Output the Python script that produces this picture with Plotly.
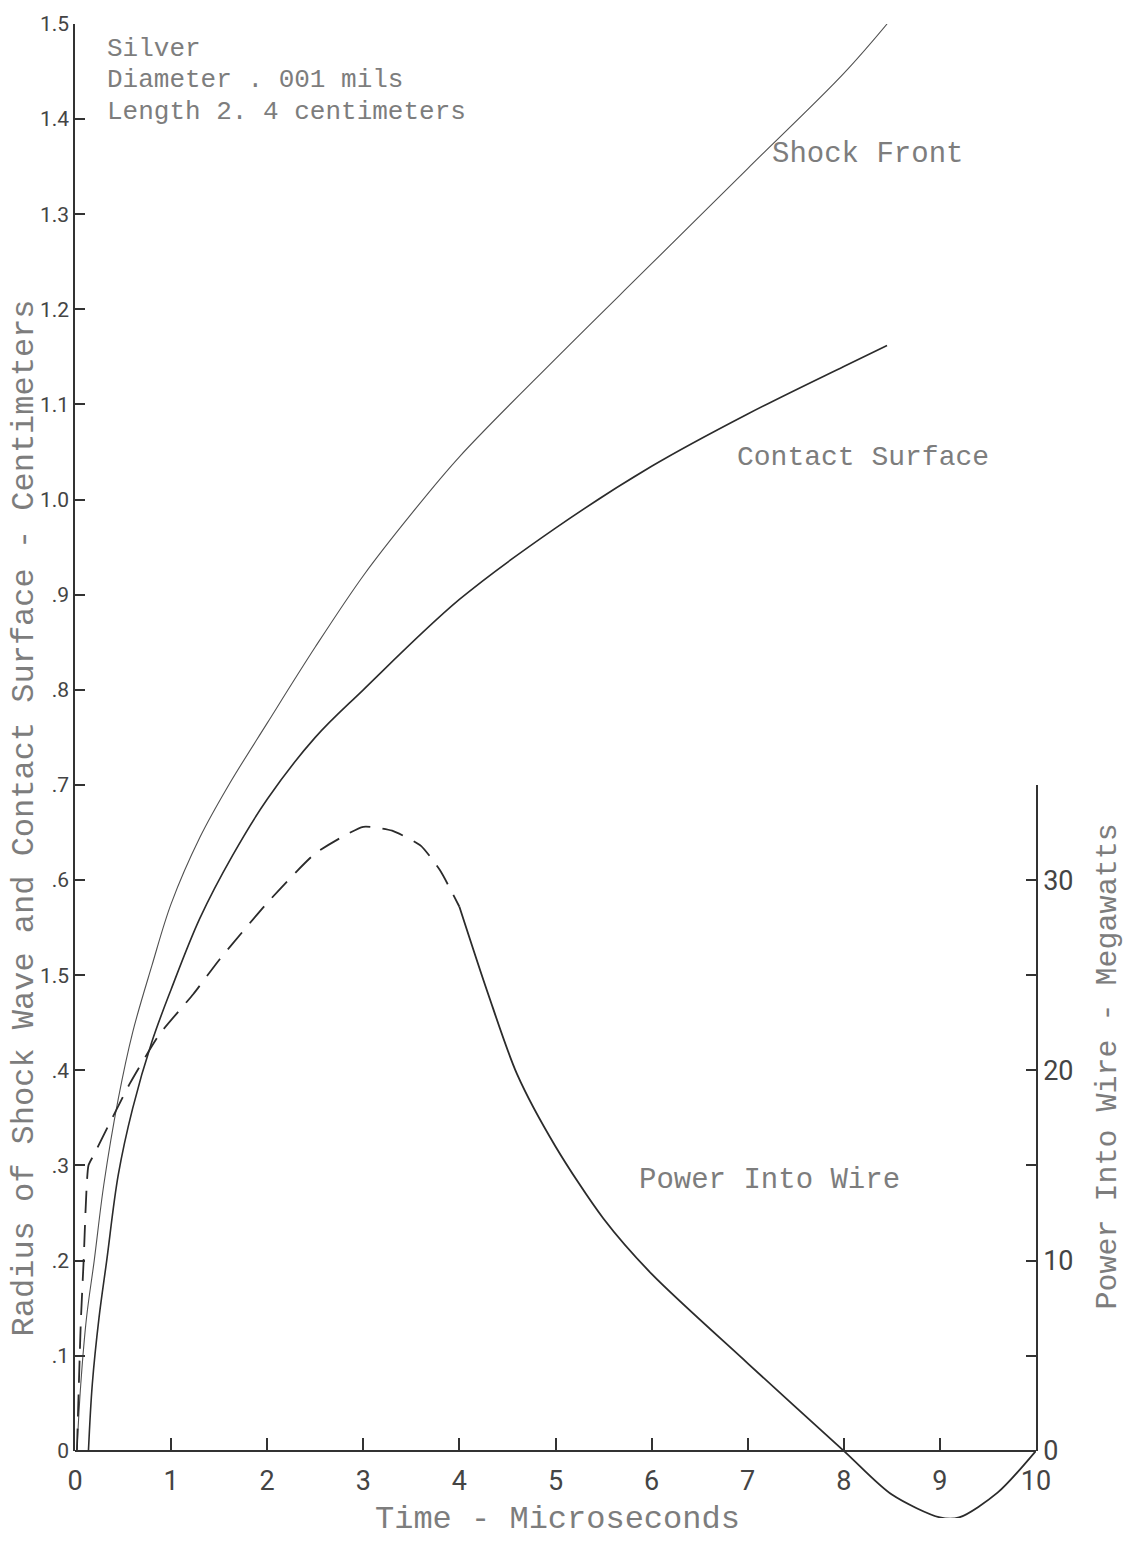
import plotly.graph_objects as go

# ---------------- data ----------------
shock_t = [0.02, 0.06, 0.12, 0.2, 0.3, 0.45, 0.6, 0.8, 1.0, 1.3, 1.6, 2.0, 2.5, 3.0,
           3.5, 4.0, 5.0, 6.0, 7.0, 8.0, 8.45]
shock_r = [0.0, 0.07, 0.14, 0.2, 0.28, 0.37, 0.44, 0.51, 0.575, 0.645, 0.70, 0.765,
           0.845, 0.92, 0.985, 1.045, 1.148, 1.248, 1.348, 1.448, 1.5]

contact_t = [0.14, 0.18, 0.25, 0.33, 0.45, 0.6, 0.8, 1.0, 1.3, 1.64, 2.0, 2.5, 3.0,
             4.0, 5.0, 6.0, 7.0, 8.0, 8.45]
contact_r = [0.0, 0.07, 0.14, 0.2, 0.29, 0.36, 0.43, 0.485, 0.56, 0.626, 0.685, 0.75,
             0.80, 0.895, 0.97, 1.035, 1.09, 1.14, 1.162]

# power into wire (megawatts): dashed part then solid part
power_dash_t = [0.02, 0.06, 0.09, 0.14, 0.19, 0.57, 0.88, 1.23, 1.5, 2.0, 2.5, 3.0,
                3.3, 3.6, 3.8, 4.0]
power_dash_mw = [0.0, 6.7, 10.0, 15.0, 15.5, 19.3, 21.9, 24.0, 25.8, 28.8, 31.4,
                 32.8, 32.6, 31.8, 30.5, 28.6]
power_solid_t = [4.0, 4.3, 4.6, 5.0, 5.5, 6.0, 7.0, 8.0, 8.5, 9.0, 9.2, 9.6, 10.0]
power_solid_mw = [28.6, 24.0, 19.8, 16.0, 12.2, 9.3, 4.6, 0.0, -2.3, -3.5, -3.5, -2.2, 0.0]

x_ticks = [0, 1, 2, 3, 4, 5, 6, 7, 8, 9, 10]
x_ticktext = ["0", "1", "2", "3", "4", "5", "6", "7", "8", "9", "10"]
r_ticks = [0, 0.1, 0.2, 0.3, 0.4, 0.5, 0.6, 0.7, 0.8, 0.9, 1.0, 1.1, 1.2, 1.3, 1.4, 1.5]
r_ticktext = ["0", ".1", ".2", ".3", ".4", "1.5", ".6", ".7", ".8", ".9", "1.0",
              "1.1", "1.2", "1.3", "1.4", "1.5"]
p_ticks = [0, 5, 10, 15, 20, 25, 30, 35]
p_ticktext = ["0", "", "10", "", "20", "", "30", ""]

# ---------------- geometry ----------------
W, H = 1128, 1546
ML, MR, MT, MB = 75, 92, 18, 16
plot_h = H - MT - MB
y_zero_px = 1462
px_per_r = (y_zero_px - MT) / 1.5          # pixels per 1.0 cm on the left scale
mw_per_r = 50.0                             # 10 MW == 0.2 cm on the left scale
y0_paper = (H - MB - y_zero_px) / plot_h    # paper fraction of the zero line
p_top_paper = y0_paper + 35 / mw_per_r * px_per_r / plot_h
mw_min = -(H - MB - y_zero_px) / px_per_r * mw_per_r
mw_max = 1.5 * mw_per_r

ink = "#2b2b2b"
text_grey = "#7d7d7d"
mono = "Liberation Mono"
sans = "Roboto"

fig = go.Figure()
fig.add_trace(go.Scatter(x=shock_t, y=shock_r, mode="lines", yaxis="y3",
                         line=dict(color="#505050", width=1.1, shape="spline", smoothing=1.0),
                         showlegend=False, hoverinfo="skip"))
fig.add_trace(go.Scatter(x=contact_t, y=contact_r, mode="lines", yaxis="y3",
                         line=dict(color=ink, width=1.6, shape="spline", smoothing=1.0),
                         showlegend=False, hoverinfo="skip"))
fig.add_trace(go.Scatter(x=power_dash_t, y=power_dash_mw, mode="lines", yaxis="y4",
                         line=dict(color=ink, width=1.8, dash="22px,12px",
                                   shape="spline", smoothing=0.5),
                         showlegend=False, hoverinfo="skip"))
fig.add_trace(go.Scatter(x=power_solid_t, y=power_solid_mw, mode="lines", yaxis="y",
                         line=dict(color=ink, width=1.8, shape="spline", smoothing=0.8),
                         showlegend=False, hoverinfo="skip"))

axis_common = dict(showgrid=False, zeroline=False, showline=True, linecolor="#333",
                   linewidth=1.5, ticks="inside", tickcolor="#333", tickwidth=1.5)

fig.update_layout(
    width=W, height=H,
    margin=dict(l=ML, r=MR, t=MT, b=MB),
    paper_bgcolor="white", plot_bgcolor="rgba(0,0,0,0)",
    xaxis=dict(range=[0, 10], domain=[0, 1], anchor="free", position=y0_paper,
               tickvals=x_ticks, ticktext=x_ticktext, ticklen=12, ticklabelstandoff=6,
               tickfont=dict(family=sans, size=27, color="#444"), **axis_common),
    yaxis=dict(range=[mw_min, mw_max], domain=[0, 1], visible=False),
    yaxis3=dict(range=[0, 1.5], domain=[y0_paper, 1], anchor="x", side="left",
                tickvals=r_ticks, ticktext=r_ticktext, ticklen=10,
                tickfont=dict(family=sans, size=21, color="#444"), **axis_common),
    yaxis4=dict(range=[0, 35], domain=[y0_paper, p_top_paper], anchor="x", side="right",
                tickvals=p_ticks, ticktext=p_ticktext, ticklen=10,
                tickfont=dict(family=sans, size=27, color="#444"), **axis_common),
)

notes = [
    ("Silver", 105, 43, 26),
    ("Diameter . 001 mils", 105, 75, 26),
    ("Length 2. 4 centimeters", 105, 107, 26),
    ("Shock Front", 770, 150, 29),
    ("Contact Surface", 735, 457, 28),
    ("Power Into Wire", 637, 1188, 29),
]
for txt, px, py, fs in notes:
    fig.add_annotation(text=txt, x=(px - ML) / (W - ML - MR), y=(H - MB - py) / plot_h,
                       xref="paper", yref="paper", xanchor="left", yanchor="middle",
                       showarrow=False, font=dict(family=mono, size=fs, color=text_grey))

title_font = dict(family=mono, size=32, color=text_grey)
fig.add_annotation(text="Time - Microseconds", x=(557 - ML) / (W - ML - MR),
                   y=(H - MB - 1532) / plot_h,
                   xref="paper", yref="paper", xanchor="center", yanchor="middle",
                   showarrow=False, font=title_font)
fig.add_annotation(text="Radius of Shock Wave and Contact Surface - Centimeters",
                   x=(24 - ML) / (W - ML - MR), y=(H - MB - 822) / plot_h,
                   xref="paper", yref="paper", xanchor="center", yanchor="middle",
                   textangle=-90, showarrow=False, font=title_font)
fig.add_annotation(text="Power Into Wire - Megawatts",
                   x=(1108 - ML) / (W - ML - MR), y=(H - MB - 1073) / plot_h,
                   xref="paper", yref="paper", xanchor="center", yanchor="middle",
                   textangle=-90, showarrow=False,
                   font=dict(family=mono, size=30, color=text_grey))

fig.write_html("out.html")
